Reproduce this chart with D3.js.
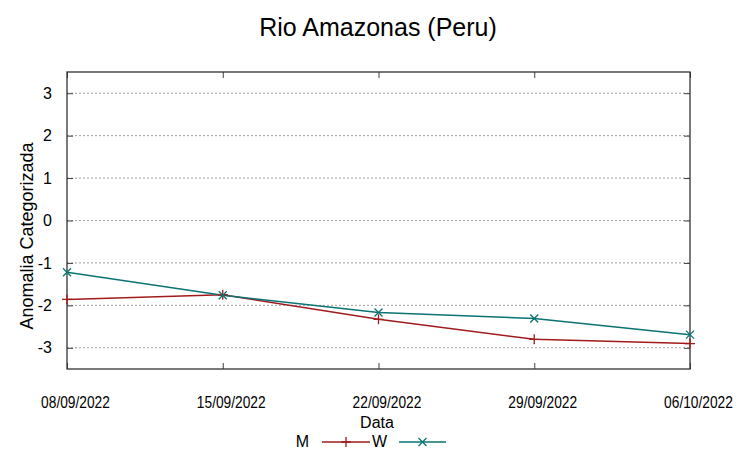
<!DOCTYPE html>
<html>
<head>
<meta charset="utf-8">
<script src="https://cdn.jsdelivr.net/npm/d3@7"></script>
<style>
  body { margin: 0; background: #fff; }
  svg { display: block; }
</style>
</head>
<body>
<div id="chart"></div>
<script>
(function () {
  "use strict";

  // Data.
  var dates = ["08/09/2022", "15/09/2022", "22/09/2022", "29/09/2022", "06/10/2022"];
  var seriesM = [-1.86, -1.75, -2.33, -2.80, -2.90];
  var seriesW = [-1.22, -1.76, -2.17, -2.31, -2.69];
  var yTicks = [-3, -2, -1, 0, 1, 2, 3];

  var width = 753, height = 458;
  var margin = { top: 72, right: 63, bottom: 89, left: 67 };
  var plotW = width - margin.left - margin.right;
  var plotH = height - margin.top - margin.bottom;

  var colors = { M: "#a11b1b", W: "#0a7373", grid: "#a0a0a0" };
  var font = "'Liberation Sans', Arial, sans-serif";

  var parse = d3.timeParse("%d/%m/%Y");
  var xVals = dates.map(parse);

  var x = d3.scaleTime().domain(d3.extent(xVals)).range([0, plotW]);
  var y = d3.scaleLinear().domain([-3.5, 3.5]).range([plotH, 0]);

  var svg = d3.select("#chart").append("svg")
    .attr("width", width).attr("height", height);

  var g = svg.append("g").attr("transform", "translate(" + margin.left + "," + margin.top + ")");

  // Horizontal dotted grid.
  g.append("g").selectAll("line").data(yTicks).enter().append("line")
    .attr("x1", 0).attr("x2", plotW)
    .attr("y1", function (d) { return y(d); }).attr("y2", function (d) { return y(d); })
    .attr("stroke", colors.grid).attr("stroke-width", 1)
    .attr("stroke-dasharray", "2 2");

  // Y axis (ticks inward) and mirrored right ticks.
  var yAxis = d3.axisLeft(y).tickValues(yTicks).tickSize(-6).tickPadding(15)
    .tickFormat(function (d) { return String(d); });
  var yg = g.append("g").call(yAxis);
  yg.select(".domain").remove();
  yg.selectAll("text").attr("font-family", font).attr("font-size", "16px").attr("fill", "#000");

  var yr = g.append("g").attr("transform", "translate(" + plotW + ",0)")
    .call(d3.axisRight(y).tickValues(yTicks).tickSize(-6).tickFormat(""));
  yr.select(".domain").remove();

  // X axis (ticks inward) and mirrored top ticks. Labels sit a little right of the tick.
  var xAxis = d3.axisBottom(x).tickValues(xVals).tickSize(-6).tickPadding(28)
    .tickFormat(d3.timeFormat("%d/%m/%Y"));
  var xg = g.append("g").attr("transform", "translate(0," + plotH + ")").call(xAxis);
  xg.select(".domain").remove();
  xg.selectAll("text").attr("font-family", font).attr("font-size", "16px").attr("fill", "#000")
    .attr("transform", "translate(8,0) scale(0.86,1)");

  var xt = g.append("g").call(d3.axisTop(x).tickValues(xVals).tickSize(-6).tickFormat(""));
  xt.select(".domain").remove();

  svg.selectAll(".tick line").attr("stroke", "#404040");

  // Border.
  g.append("rect").attr("width", plotW).attr("height", plotH)
    .attr("fill", "none").attr("stroke", "#333").attr("stroke-width", 1.3);

  // Lines.
  var line = d3.line()
    .x(function (d, i) { return x(xVals[i]); })
    .y(function (d) { return y(d); });

  function plus(sel, color) {
    sel.append("path")
      .attr("d", "M-5,0H5M0,-5V5")
      .attr("stroke", color).attr("stroke-width", 1.3).attr("fill", "none");
  }
  function cross(sel, color) {
    sel.append("path")
      .attr("d", "M-4,-4L4,4M-4,4L4,-4")
      .attr("stroke", color).attr("stroke-width", 1.3).attr("fill", "none");
  }

  g.append("path").datum(seriesM).attr("d", line)
    .attr("fill", "none").attr("stroke", colors.M).attr("stroke-width", 1.5);
  g.append("path").datum(seriesW).attr("d", line)
    .attr("fill", "none").attr("stroke", colors.W).attr("stroke-width", 1.5);

  g.append("g").selectAll("g").data(seriesM).enter().append("g")
    .attr("transform", function (d, i) { return "translate(" + x(xVals[i]) + "," + y(d) + ")"; })
    .each(function () { plus(d3.select(this), colors.M); });
  g.append("g").selectAll("g").data(seriesW).enter().append("g")
    .attr("transform", function (d, i) { return "translate(" + x(xVals[i]) + "," + y(d) + ")"; })
    .each(function () { cross(d3.select(this), colors.W); });

  // Title and axis labels.
  svg.append("text").attr("x", 378).attr("y", 36)
    .attr("text-anchor", "middle").attr("font-family", font).attr("font-size", "25px")
    .text("Rio Amazonas (Peru)");

  svg.append("text").attr("x", 377).attr("y", 428)
    .attr("text-anchor", "middle").attr("font-family", font).attr("font-size", "16px")
    .text("Data");

  svg.append("text")
    .attr("transform", "translate(33,236) rotate(-90)")
    .attr("text-anchor", "middle").attr("font-family", font).attr("font-size", "18px")
    .text("Anomalia Categorizada");

  // Legend.
  var legend = svg.append("g").attr("transform", "translate(0,442)");
  var items = [
    { label: "M", tx: 309, x1: 322, x2: 370, color: colors.M, mark: plus },
    { label: "W", tx: 387, x1: 399, x2: 446, color: colors.W, mark: cross }
  ];
  items.forEach(function (it) {
    legend.append("text").attr("x", it.tx).attr("y", 5)
      .attr("text-anchor", "end").attr("font-family", font).attr("font-size", "16px")
      .text(it.label);
    legend.append("line").attr("x1", it.x1).attr("x2", it.x2).attr("y1", 0).attr("y2", 0)
      .attr("stroke", it.color).attr("stroke-width", 1.5);
    var m = legend.append("g").attr("transform", "translate(" + ((it.x1 + it.x2) / 2) + ",0)");
    it.mark(m, it.color);
  });
})();
</script>
</body>
</html>
